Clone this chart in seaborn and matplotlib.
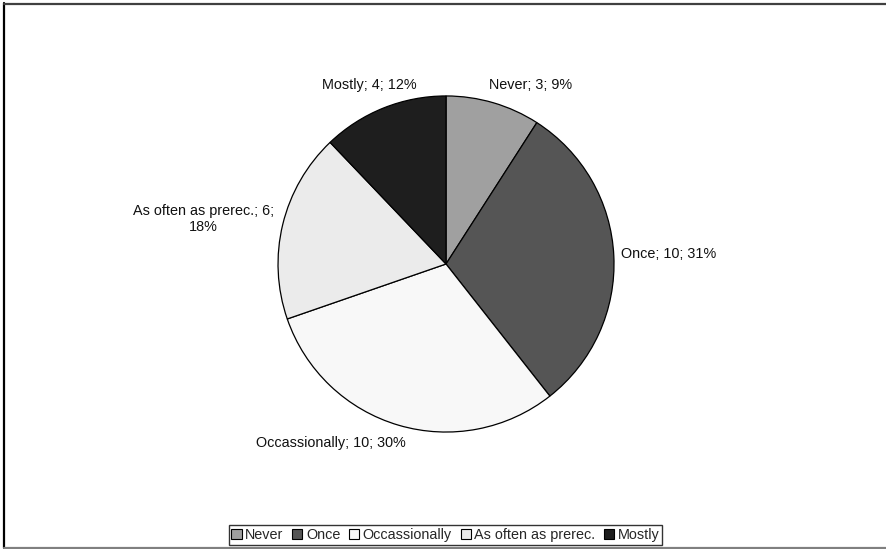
import numpy as np
import matplotlib
matplotlib.use("Agg")
import matplotlib.pyplot as plt
from matplotlib.patches import Patch
from matplotlib.lines import Line2D
import seaborn as sns

# Survey answers and their counts
categories = ["Never", "Once", "Occassionally", "As often as prerec.", "Mostly"]
counts = [3, 10, 10, 6, 4]
colors = ["#a0a0a0", "#555555", "#f8f8f8", "#ebebeb", "#1e1e1e"]

# Label anchor points (pie radius = 1) and line breaks
label_pos = [(0.506, 1.065), (1.327, 0.06), (-0.6875, -1.065), (-1.443, 0.268), (-0.455, 1.065)]
label_fmt = ["{c}; {v}; {p}%", "{c}; {v}; {p}%", "{c}; {v}; {p}%",
             "{c}; {v};\n{p}%", "{c}; {v}; {p}%"]

sns.set_theme(style="white")
plt.rcParams["font.family"] = ["Liberation Sans", "DejaVu Sans"]


def rounded_percent(vals):
    """Whole percentages that add up to 100 (largest remainder)."""
    vals = np.asarray(vals, dtype=float)
    raw = vals / vals.sum() * 100
    base = np.floor(raw).astype(int)
    rest = 100 - base.sum()
    order = sorted(range(len(raw)), key=lambda i: (-(raw[i] - base[i]), i))
    for i in order[:rest]:
        base[i] += 1
    return base


pcts = rounded_percent(counts)

fig = plt.figure(figsize=(8.87, 5.49), dpi=100)
ax = fig.add_axes([0, 0, 1, 1])
ax.pie(counts, colors=colors, startangle=90, counterclock=False,
       wedgeprops=dict(edgecolor="black", linewidth=0.9), radius=1.0)
ax.set_aspect("auto")
ax.set_xlim(-2.655, 2.625)
ax.set_ylim(-1.696, 1.571)
ax.axis("off")

for cat, v, p, (x, y), fmt in zip(categories, counts, pcts, label_pos, label_fmt):
    ax.text(x, y, fmt.format(c=cat, v=v, p=p), ha="center", va="center",
            fontsize=10.4, color="#111111", linespacing=1.25)

handles = [Patch(facecolor=c, edgecolor="black", linewidth=0.8) for c in colors]
leg = fig.legend(handles, categories, loc="center", bbox_to_anchor=(445.5 / 887, 1 - 535 / 549),
                 ncol=5, fontsize=10.4, frameon=True, fancybox=False,
                 handlelength=0.7, handleheight=0.7, handletextpad=0.25,
                 columnspacing=0.6, borderpad=0.2, borderaxespad=0)
leg.get_frame().set_edgecolor("black")
leg.get_frame().set_linewidth(1.0)

# Outer chart border (left, top, bottom)
W, H = 887, 549
fig.add_artist(Line2D([4.5 / W, 4.5 / W], [1 - 3 / H, 1 - 548 / H], transform=fig.transFigure,
                      color="black", linewidth=1.6))
fig.add_artist(Line2D([4 / W, 1], [1 - 3.5 / H, 1 - 3.5 / H], transform=fig.transFigure,
                      color="#404040", linewidth=1.6))
fig.add_artist(Line2D([4 / W, 1], [1 - 547.5 / H, 1 - 547.5 / H], transform=fig.transFigure,
                      color="#808080", linewidth=1.6))

fig.savefig("out.png", dpi=100, facecolor="white")
